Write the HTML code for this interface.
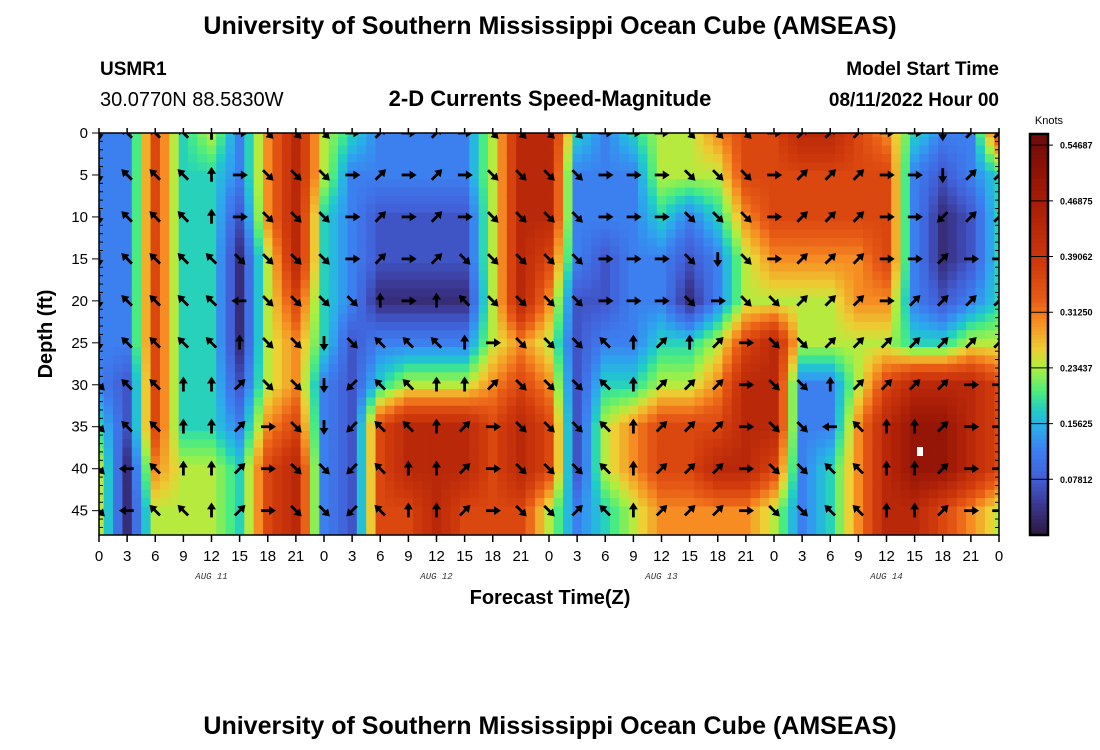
<!DOCTYPE html>
<html><head><meta charset="utf-8">
<style>
body{margin:0;background:#fff;width:1100px;height:750px;overflow:hidden;font-family:"Liberation Sans",sans-serif;}
svg{display:block}
</style></head>
<body>
<svg id="chart" width="1100" height="750" viewBox="0 0 1100 750" xmlns="http://www.w3.org/2000/svg">
<text x="550" y="34" text-anchor="middle" font-size="25" font-weight="bold" font-family="Liberation Sans, sans-serif">University of Southern Mississippi Ocean Cube (AMSEAS)</text>
<text x="100" y="75" font-size="19" font-weight="bold">USMR1</text>
<text x="100" y="106" font-size="20">30.0770N  88.5830W</text>
<text x="550" y="106" text-anchor="middle" font-size="22" font-weight="bold">2-D Currents Speed-Magnitude</text>
<text x="999" y="75" text-anchor="end" font-size="19" font-weight="bold">Model Start Time</text>
<text x="999" y="106" text-anchor="end" font-size="19" font-weight="bold">08/11/2022 Hour 00</text>
<text transform="translate(52,334) rotate(-90)" text-anchor="middle" font-size="20" font-weight="bold">Depth (ft)</text>
<text x="550" y="604" text-anchor="middle" font-size="20" font-weight="bold">Forecast Time(Z)</text>
<text x="550" y="734" text-anchor="middle" font-size="25" font-weight="bold">University of Southern Mississippi Ocean Cube (AMSEAS)</text>
<defs><clipPath id="plotclip"><rect x="99" y="133" width="900" height="402"/></clipPath></defs>
<g id="heat" clip-path="url(#plotclip)"></g>
<g id="arrows" clip-path="url(#plotclip)"></g>
<rect x="917" y="447" width="6" height="9" fill="#fff"/>
<g id="axes"></g>
<g id="cbar"></g>
</svg>
<script>
// hours 0..96 every 3h; depths 0..45 every 5 ft
const timeTicks = [0,3,6,9,12,15,18,21,0,3,6,9,12,15,18,21,0,3,6,9,12,15,18,21,0,3,6,9,12,15,18,21,0];
const dayLabels = ["AUG 11","AUG 12","AUG 13","AUG 14"];
const depthTicks = [0,5,10,15,20,25,30,35,40,45];
const colorbarTicks = [0.078125,0.15625,0.234375,0.3125,0.390625,0.46875,0.546875];
const colorbarLabels = ["0.07812","0.15625","0.23437","0.31250","0.39062","0.46875","0.54687"];
// speed (knots) per forecast time column, depths 0..45
const speedByTime = [
[.12,.12,.12,.12,.12,.12,.12,.18,.24,.24],
[.12,.12,.12,.12,.12,.12,.07,.07,.03,.03],
[.36,.36,.36,.36,.36,.36,.36,.36,.30,.24],
[.18,.18,.18,.18,.18,.18,.18,.18,.24,.24],
[.24,.18,.18,.18,.18,.18,.18,.18,.24,.24],
[.12,.12,.07,.03,.03,.03,.07,.12,.18,.18],
[.30,.30,.30,.24,.24,.24,.24,.30,.36,.36],
[.43,.43,.43,.43,.36,.30,.30,.36,.43,.43],
[.24,.24,.18,.18,.18,.18,.12,.12,.12,.12],
[.18,.12,.12,.12,.12,.07,.07,.07,.07,.07],
[.12,.12,.07,.07,.03,.12,.18,.36,.36,.36],
[.12,.12,.07,.07,.03,.12,.24,.43,.43,.36],
[.12,.12,.07,.07,.03,.12,.24,.43,.43,.43],
[.12,.12,.07,.07,.03,.12,.24,.43,.43,.36],
[.24,.24,.24,.24,.24,.24,.30,.36,.36,.36],
[.43,.43,.43,.43,.43,.30,.36,.43,.43,.36],
[.43,.43,.43,.36,.30,.24,.30,.36,.36,.24],
[.18,.12,.12,.12,.07,.07,.07,.07,.07,.12],
[.12,.12,.12,.07,.07,.12,.18,.24,.24,.18],
[.18,.12,.12,.12,.12,.12,.18,.30,.30,.24],
[.24,.24,.18,.12,.12,.18,.24,.36,.36,.30],
[.24,.24,.12,.07,.03,.18,.24,.36,.36,.30],
[.30,.24,.18,.12,.12,.24,.30,.36,.43,.30],
[.36,.36,.30,.24,.24,.36,.43,.43,.43,.30],
[.36,.36,.36,.30,.24,.43,.43,.43,.36,.24],
[.43,.36,.36,.30,.24,.24,.12,.12,.12,.12],
[.43,.36,.36,.30,.24,.24,.12,.12,.18,.18],
[.36,.36,.36,.30,.30,.24,.24,.30,.30,.30],
[.30,.36,.36,.36,.30,.24,.36,.43,.43,.43],
[.18,.12,.12,.12,.12,.18,.43,.50,.50,.43],
[.12,.07,.03,.03,.07,.18,.43,.50,.50,.36],
[.12,.12,.07,.07,.12,.24,.43,.43,.43,.30],
[.36,.18,.18,.18,.18,.24,.36,.36,.36,.24]
];
// current direction per depth row (one char per time column): q NW, w N, e NE, d E, c SE, x S, z SW, a W
const directionRows = [
"xqqqwdcccdededccccdddcccdeeeddxee",
"xqqqwdcccdededccccdddcccdeeeddxee",
"xqqqwdcccdededccccdddcccdeeeddzee",
"xqqqqccccdedecccccdddcxcdeeeddedd",
"xqqqqaccccwdwqccccdddcdcceeedeeee",
"xqqqqwccxcqqqwdcccqwewedcceeeeeee",
"cqqwweccxzqqwwecccqweeedccweeeedd",
"cqqwwedcxzqqwedcccqweeedccaqwwedd",
"caqwwedcczqwwedcccqweeedccqqwwedd",
"caqqwedcczqwwedcceqweeedccqqwwedd"
];

const NS="http://www.w3.org/2000/svg";
const X0=99, X1=999, Y0=133, Y1=535, HMAX=96, DMAX=47.9;
const xs = h => X0 + (X1-X0)*h/HMAX;
const ys = d => Y0 + (Y1-Y0)*d/DMAX;
const VMAX=0.5625;
const stops=[[0,[44,24,60]],[0.04,[58,52,140]],[0.08,[66,96,216]],[0.12,[60,128,240]],[0.15,[44,170,236]],[0.175,[32,204,200]],[0.20,[72,236,130]],[0.235,[170,240,64]],[0.26,[236,208,52]],[0.30,[246,140,34]],[0.33,[232,92,22]],[0.38,[208,58,12]],[0.45,[176,34,8]],[0.52,[138,16,6]],[0.5625,[106,12,12]]];
function color(v){
  if(v<=stops[0][0]) return `rgb(${stops[0][1]})`;
  for(let i=1;i<stops.length;i++){ if(v<=stops[i][0]){const a=stops[i-1],b=stops[i];const t=(v-a[0])/(b[0]-a[0]);
    return `rgb(${a[1].map((c,j)=>Math.round(c+(b[1][j]-c)*t)).join(',')})`;}}
  return `rgb(${stops[stops.length-1][1]})`;
}
function el(tag,attrs,parent){const e=document.createElementNS(NS,tag);for(const k in attrs)e.setAttribute(k,attrs[k]);parent.appendChild(e);return e;}

const heat=document.getElementById('heat');
const nT=speedByTime.length, nD=depthTicks.length;
function speedAt(h,d){
  let fi=h/3; fi=Math.max(0,Math.min(nT-1,fi));
  let fj=d/5; fj=Math.max(0,Math.min(nD-1,fj));
  const i0=Math.floor(fi), i1=Math.min(nT-1,i0+1), j0=Math.floor(fj), j1=Math.min(nD-1,j0+1);
  const ti=fi-i0, tj=fj-j0;
  const a=speedByTime[i0][j0]*(1-tj)+speedByTime[i0][j1]*tj;
  const b=speedByTime[i1][j0]*(1-tj)+speedByTime[i1][j1]*tj;
  return a*(1-ti)+b*ti;
}
for(let h=-0.5;h<HMAX+0.5;h+=1){
  for(let d=-0.5;d<48;d+=1){
    const r=el('rect',{x:xs(h).toFixed(2),y:ys(d).toFixed(2),width:(xs(1)-xs(0)+0.6).toFixed(2),height:(ys(1)-ys(0)+0.6).toFixed(2),fill:color(speedAt(h+0.5,d+0.5))},heat);
    
    
  }
}

const arrows=document.getElementById('arrows');
const dirAngles={q:135,w:90,e:45,d:0,c:-45,x:-90,z:-135,a:180};
directionRows.forEach((row,j)=>{
  for(let i=0;i<row.length;i++){
    const ang=dirAngles[row[i]]*Math.PI/180;
    const cx=xs(i*3), cy=ys(depthTicks[j]);
    const L=15, ux=Math.cos(ang), uy=-Math.sin(ang);
    const x=cx-ux*L*0.45, y=cy-uy*L*0.45;
    const tx=x+ux*L, ty=y+uy*L;
    const g=el('g',{},arrows);
    
    
    el('line',{x1:x,y1:y,x2:tx-ux*4,y2:ty-uy*4,stroke:'#000','stroke-width':2.8},g);
    const px=-uy, py=ux;
    const bx=tx-ux*7, by=ty-uy*7;
    el('polygon',{points:`${tx},${ty} ${bx+px*4.5},${by+py*4.5} ${bx-px*4.5},${by-py*4.5}`,fill:'#000'},g);
  }
});

const axes=document.getElementById('axes');
el('rect',{x:X0,y:Y0,width:X1-X0,height:Y1-Y0,fill:'none',stroke:'#000','stroke-width':1.5},axes);
timeTicks.forEach((t,i)=>{
  const x=xs(i*3);
  el('line',{x1:x,y1:Y1,x2:x,y2:Y1+7,stroke:'#000','stroke-width':1.5},axes);
  el('line',{x1:x,y1:Y0,x2:x,y2:Y0-5,stroke:'#000','stroke-width':1.5},axes);
  const tl=el('text',{x:x,y:Y1+26,'text-anchor':'middle','font-size':15},axes);
  tl.textContent=t;
  
  
});
dayLabels.forEach((s,i)=>{
  const t=el('text',{x:xs(i*24+12),y:Y1+44,'text-anchor':'middle','font-size':9,'font-style':'italic','font-family':'Liberation Mono, monospace',fill:'#333'},axes);
  t.textContent=s;
  
  
});
for(let d=0;d<=47;d++){
  const y=ys(d), major=d%5===0;
  el('line',{x1:X0-(major?7:0),y1:y,x2:X0+(major?0:4),y2:y,stroke:'#000','stroke-width':1},axes);
  el('line',{x1:X1,y1:y,x2:X1-(major?0:4),y2:y,stroke:'#000','stroke-width':1},axes);
}
depthTicks.forEach(d=>{
  const t=el('text',{x:X0-11,y:ys(d)+5,'text-anchor':'end','font-size':15},axes);
  t.textContent=d;
  
  
});

const cb=document.getElementById('cbar');
const CX=1030,CW=18,CY0=134,CY1=535;
const cyv=v=>CY1-(CY1-CY0)*v/VMAX;
for(let k=0;k<100;k++){
  const v0=VMAX*k/100, v1=VMAX*(k+1)/100;
  el('rect',{x:CX,y:cyv(v1),width:CW,height:(cyv(v0)-cyv(v1)+0.5),fill:color((v0+v1)/2)},cb);
}
el('rect',{x:CX,y:CY0,width:CW,height:CY1-CY0,fill:'none',stroke:'#000','stroke-width':2.5},cb);
const kt=el('text',{x:CX+19,y:124,'text-anchor':'middle','font-size':11},cb);
kt.textContent='Knots';


colorbarTicks.forEach((v,i)=>{
  const y=cyv(v);
  el('line',{x1:CX,y1:y,x2:CX+CW+5,y2:y,stroke:'#000','stroke-width':1},cb);
  const t=el('text',{x:CX+CW+12,y:y+3.5,'font-size':9,'font-weight':'bold'},cb);
  t.textContent=colorbarLabels[i];
  
  
});
</script>
</body></html>
